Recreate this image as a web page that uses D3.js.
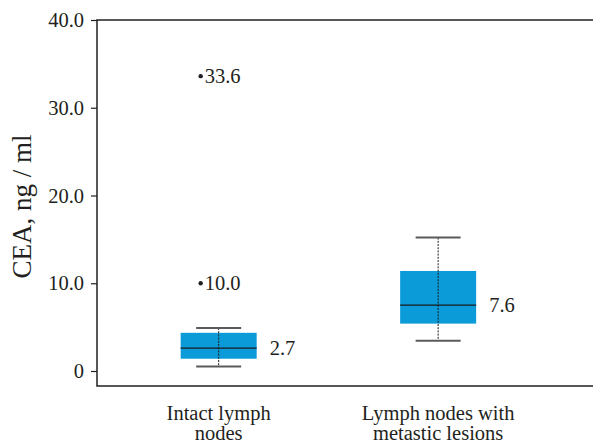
<!DOCTYPE html>
<html>
<head>
<meta charset="utf-8">
<script src="https://cdn.jsdelivr.net/npm/d3@7"></script>
<style>
  body { margin: 0; background: #fff; }
  text { font-family: "Liberation Serif", "DejaVu Serif", serif; fill: #231f20; }
</style>
</head>
<body>
<script>
const width = 593;
const height = 443;

// data
const groups = ["Intact lymph|nodes", "Lymph nodes with|metastic lesions"];
const whiskerLow = [0.5, 3.45];
const q1 = [1.4, 5.4];
const median = [2.6, 7.5];
const q3 = [4.35, 11.4];
const whiskerHigh = [4.9, 15.2];
const medianLabels = ["2.7", "7.6"];
const outliers = [[10.0, 33.6], []];
const yTicks = [0, 10, 20, 30, 40];

const plotLeft = 97, plotTop = 20, plotBottom = 386;
const fs = 20.5;

const svg = d3.select("body").append("svg")
    .attr("width", width)
    .attr("height", height);

const y = d3.scaleLinear().domain([0, 40]).range([371, 20]);
const x = d3.scalePoint().domain(groups).range([plotLeft, width]).padding(0.63).align(0.44);

// frame: left, top and bottom lines
svg.append("path")
    .attr("d", "M" + width + "," + plotTop + "H" + plotLeft + "V" + plotBottom + "H" + width)
    .attr("fill", "none")
    .attr("stroke", "#231f20")
    .attr("stroke-width", 1.5);

// y axis ticks
const yAxis = svg.append("g")
    .attr("transform", "translate(" + plotLeft + ",0)")
    .call(d3.axisLeft(y).tickValues(yTicks).tickSize(6).tickPadding(7)
      .tickFormat(d => d === 0 ? "0" : d3.format(".1f")(d)));
yAxis.select(".domain").remove();
yAxis.selectAll(".tick line").attr("stroke", "#231f20").attr("stroke-width", 1.2);
yAxis.selectAll(".tick text")
    .attr("font-size", fs)
    .attr("fill", "#231f20");

svg.append("text")
    .attr("transform", "translate(31," + (y(20) + 11) + ") rotate(-90)")
    .attr("text-anchor", "middle")
    .attr("font-size", 27)
    .text("CEA, ng / ml");

// boxes
const boxW = 76, capW = 45;
groups.forEach(function(g, i) {
  const cx = x(g);
  const grp = svg.append("g");

  grp.append("rect")
    .attr("x", cx - boxW / 2)
    .attr("y", y(q3[i]))
    .attr("width", boxW)
    .attr("height", y(q1[i]) - y(q3[i]))
    .attr("fill", "#0a9bd8");

  grp.append("line")
    .attr("x1", cx - boxW / 2).attr("x2", cx + boxW / 2)
    .attr("y1", y(median[i])).attr("y2", y(median[i]))
    .attr("stroke", "#1a1a1a").attr("stroke-width", 1.3);

  grp.append("line")
    .attr("x1", cx).attr("x2", cx)
    .attr("y1", y(whiskerHigh[i])).attr("y2", y(whiskerLow[i]))
    .attr("stroke", "#1a1a1a").attr("stroke-width", 1)
    .attr("stroke-dasharray", "2,1.2");

  [whiskerLow[i], whiskerHigh[i]].forEach(function(v) {
    grp.append("line")
      .attr("x1", cx - capW / 2).attr("x2", cx + capW / 2)
      .attr("y1", y(v)).attr("y2", y(v))
      .attr("stroke", "#5a5a5a").attr("stroke-width", 2);
  });

  grp.append("text")
    .attr("x", cx + boxW / 2 + 13)
    .attr("y", y(median[i]) + 7)
    .attr("font-size", fs)
    .text(medianLabels[i]);

  outliers[i].forEach(function(v) {
    grp.append("circle")
      .attr("cx", cx - 18).attr("cy", y(v))
      .attr("r", 2.2).attr("fill", "#231f20");
    grp.append("text")
      .attr("x", cx - 14).attr("y", y(v) + 7)
      .attr("font-size", fs)
      .text(d3.format(".1f")(v));
  });

  const lines = g.split("|");
  lines.forEach(function(l, k) {
    svg.append("text")
      .attr("x", cx)
      .attr("y", 420 + k * 20)
      .attr("text-anchor", "middle")
      .attr("font-size", fs)
      .text(l);
  });
});
</script>
</body>
</html>
